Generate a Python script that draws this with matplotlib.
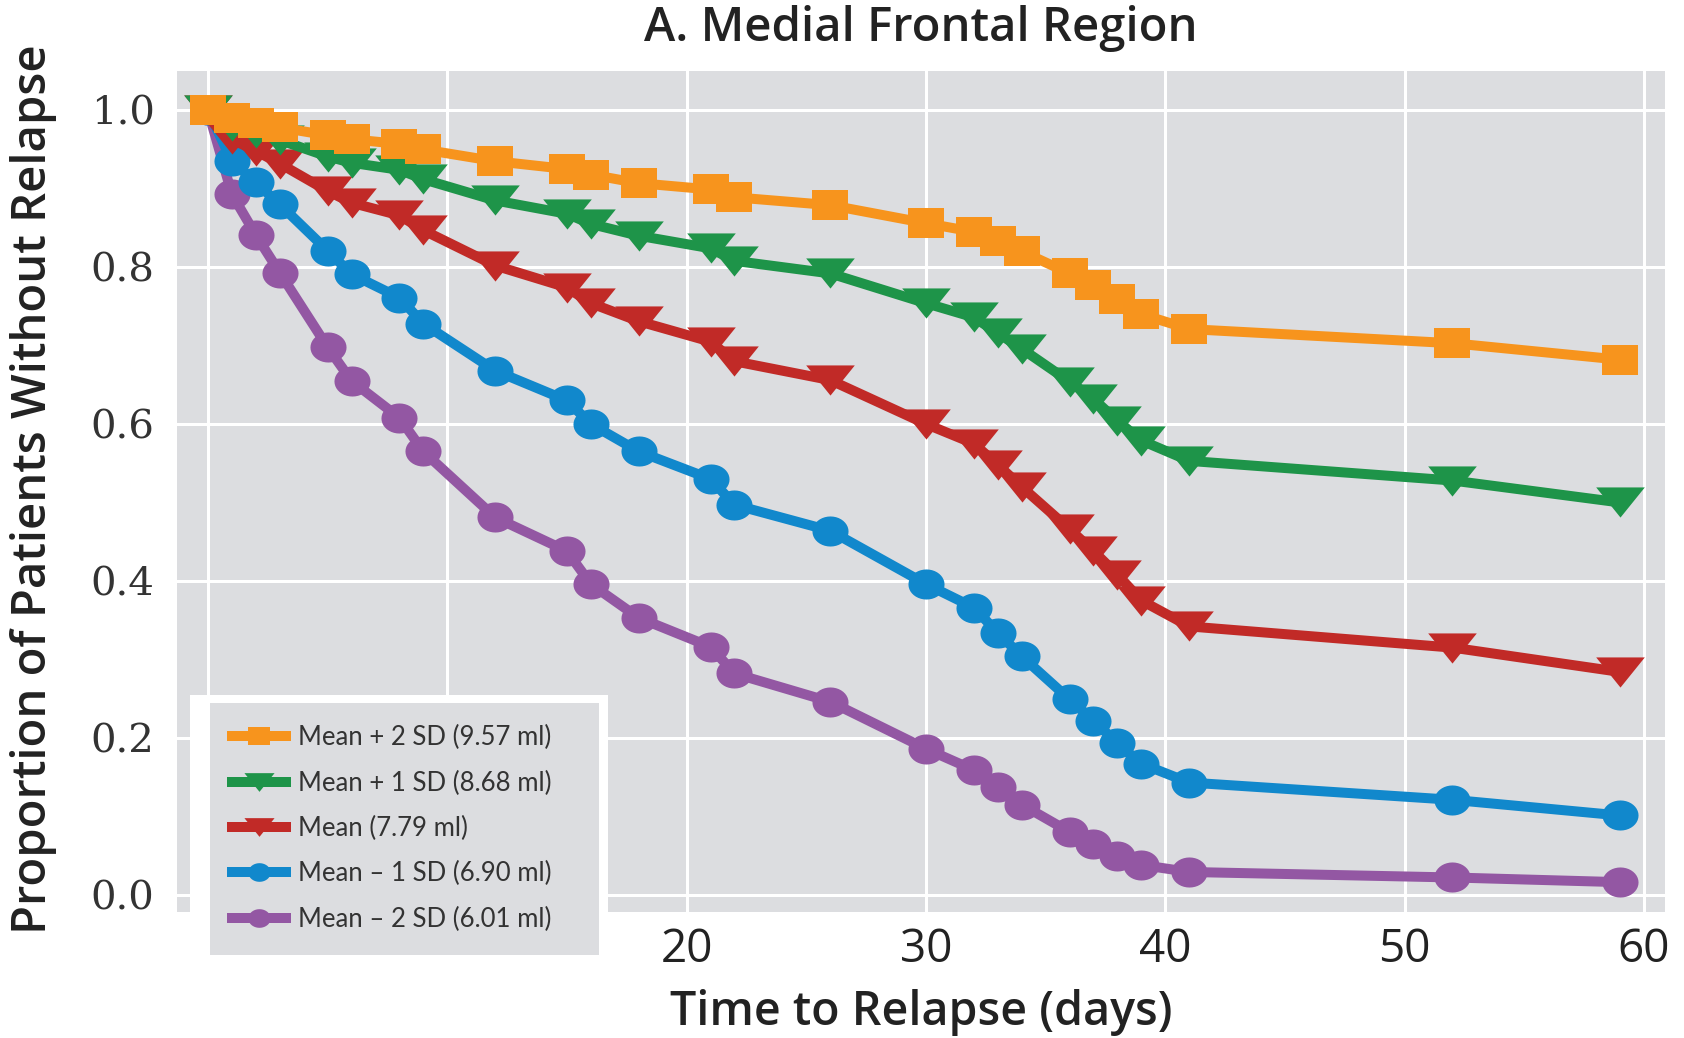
import matplotlib
matplotlib.use("Agg")
import matplotlib.pyplot as plt
from matplotlib.patches import Rectangle
import numpy as np

# time points (days) where the curves step
days = [0, 1, 2, 3, 5, 6, 8, 9, 12, 15, 16, 18, 21, 22, 26, 30, 32, 33, 34, 36, 37, 38, 39, 41, 52, 59]

# survival proportions
plus2sd = [1.0, 0.990, 0.984, 0.978, 0.968, 0.963, 0.957, 0.950, 0.935, 0.925, 0.918, 0.907, 0.899, 0.889,
           0.879, 0.856, 0.845, 0.833, 0.820, 0.792, 0.777, 0.760, 0.740, 0.721, 0.703, 0.682]
plus1sd = [1.0, 0.980, 0.971, 0.962, 0.941, 0.933, 0.924, 0.912, 0.885, 0.868, 0.855, 0.840, 0.824, 0.808,
           0.792, 0.754, 0.736, 0.716, 0.696, 0.654, 0.632, 0.604, 0.579, 0.553, 0.528, 0.500]
mean = [1.0, 0.963, 0.948, 0.932, 0.897, 0.882, 0.866, 0.847, 0.802, 0.774, 0.754, 0.731, 0.705, 0.680,
        0.656, 0.600, 0.575, 0.548, 0.520, 0.466, 0.438, 0.408, 0.375, 0.342, 0.315, 0.284]
minus1sd = [1.0, 0.935, 0.908, 0.880, 0.821, 0.791, 0.761, 0.728, 0.668, 0.630, 0.600, 0.565, 0.530, 0.497,
            0.464, 0.396, 0.366, 0.334, 0.304, 0.249, 0.222, 0.193, 0.167, 0.143, 0.121, 0.101]
minus2sd = [1.0, 0.893, 0.841, 0.793, 0.698, 0.655, 0.608, 0.565, 0.481, 0.438, 0.396, 0.353, 0.316, 0.282,
            0.246, 0.186, 0.159, 0.137, 0.115, 0.080, 0.065, 0.050, 0.038, 0.029, 0.022, 0.016]

labels = ["Mean + 2 SD (9.57 ml)", "Mean + 1 SD (8.68 ml)", "Mean (7.79 ml)",
          "Mean \u2013 1 SD (6.90 ml)", "Mean \u2013 2 SD (6.01 ml)"]
xticks = [0, 10, 20, 30, 40, 50, 60]
# 0 and 10 sit under the legend box in the original
xticklabels = ["", "", "20", "30", "40", "50", "60"]
yticks = [0.0, 0.2, 0.4, 0.6, 0.8, 1.0]

# markers are a bit wider than tall in the original
sq = [(-1.2, -1), (1.2, -1), (1.2, 1), (-1.2, 1), (-1.2, -1)]
tri = [(-1, 0.62), (1, 0.62), (0, -0.62), (-1, 0.62)]
th = np.linspace(0, 2 * np.pi, 41)
ell = list(zip(1.2 * np.cos(th), np.sin(th)))

series = [
    (plus2sd, "#f7941d", sq, 26),
    (plus1sd, "#1e9449", tri, 35),
    (mean, "#c12a27", tri, 35),
    (minus1sd, "#1188cc", ell, 26),
    (minus2sd, "#9357a3", ell, 26),
]

bg = "#dcdde0"
lab_font = dict(family="Open Sans", fontweight="semibold", color="#222222")

fig = plt.figure(figsize=(16.84, 10.38), dpi=100)
ax = fig.add_axes([0.105, 0.1214, 0.884, 0.8102])
ax.set_facecolor(bg)
for s in ax.spines.values():
    s.set_visible(False)

ax.set_xlim(-1.3, 60.9)
ax.set_ylim(-0.022, 1.05)
ax.set_xticks(xticks)
ax.set_yticks(yticks)
ax.set_yticklabels(["%.1f" % v for v in yticks], family="DejaVu Serif", fontsize=29, color="#333333")
ax.set_xticklabels(xticklabels, family="Open Sans", fontsize=33, color="#222222")
ax.tick_params(length=0)
ax.tick_params(axis="y", pad=16)
ax.tick_params(axis="x", pad=11)
ax.grid(True, color="white", linewidth=2.2)
ax.set_axisbelow(True)

handles = []
for (vals, col, mk, ms), lab in zip(series, labels):
    h, = ax.plot(days, vals, color=col, linewidth=7.2, marker=mk, markersize=ms,
                 markeredgewidth=0, solid_joinstyle="round", label=lab)
    handles.append(h)

# draw purple first so orange ends up on top
for i, h in enumerate(handles):
    h.set_zorder(3 + (len(handles) - i))

# legend box: white frame with grey inside, hanging below the plot area
ax.add_patch(Rectangle((0.1128, 0.0684), 0.2482, 0.262, transform=fig.transFigure,
                       facecolor="white", edgecolor="none", clip_on=False, zorder=15))
ax.add_patch(Rectangle((0.1247, 0.080), 0.231, 0.2428, transform=fig.transFigure,
                       facecolor=bg, edgecolor="none", clip_on=False, zorder=16))

leg = ax.legend(handles=handles, loc="upper left", bbox_to_anchor=(0.1378, 0.3015),
                bbox_transform=fig.transFigure, prop={"family": "Lato", "size": 18.5},
                frameon=False, handlelength=2.1, handletextpad=0.45, labelspacing=0.79,
                borderpad=0, borderaxespad=0, markerscale=0.62)
leg.set_zorder(20)
for t in leg.get_texts():
    t.set_color("#333333")

fig.text(0.547, 1 - 29 / 1038, "A. Medial Frontal Region", ha="center", va="center",
         fontsize=34, **lab_font)
fig.text(0.547, 1 - 1013 / 1038, "Time to Relapse (days)", ha="center", va="center",
         fontsize=33.5, **lab_font)
fig.text(34 / 1684, 1 - 489 / 1038, "Proportion of Patients Without Relapse", ha="center", va="center",
         rotation=90, fontsize=34, **lab_font)

fig.savefig("out.png", dpi=100, facecolor="white")
